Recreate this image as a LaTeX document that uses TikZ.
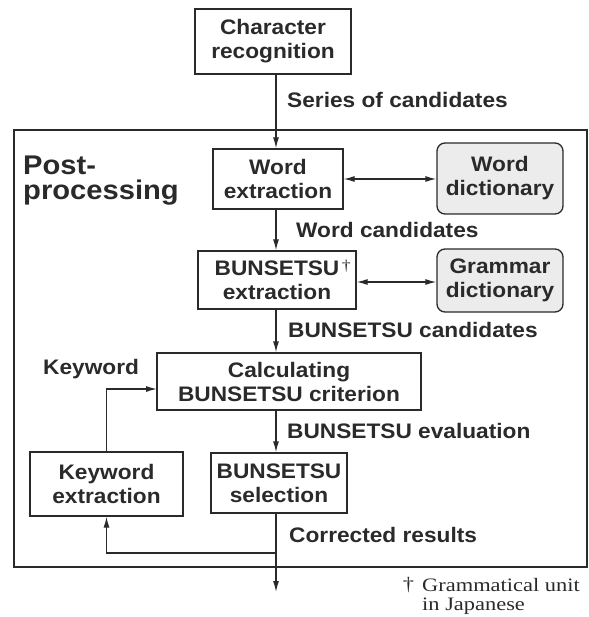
\documentclass[tikz,border=0pt]{standalone}
\usepackage{fontspec}
\setmainfont{Liberation Sans}[FakeStretch=1.08]
\newfontfamily\fnser{Liberation Serif}[FakeStretch=1.18]
\usetikzlibrary{arrows.meta}
\newcommand{\lblfont}{\fontsize{21}{24}\selectfont\bfseries}
\newcommand{\bigfont}{\fontsize{27}{25}\selectfont\bfseries}
\definecolor{ink}{HTML}{2A2A2A}
\definecolor{dictgray}{HTML}{ECECEC}
\begin{document}
\begin{tikzpicture}[x=1pt,y=-1pt,
  every node/.style={text=ink},
  boxnode/.style={draw=ink, line width=1.3pt, align=center, inner sep=0pt, font=\lblfont},
  dictnode/.style={boxnode, rounded corners=8pt, fill=dictgray},
  lbl/.style={anchor=base west, inner sep=0pt, font=\lblfont},
  conn/.style={draw=ink, line width=1.3pt},
  arr/.style={conn, -{Latex[length=11pt,width=6pt]}},
  darr/.style={conn, {Latex[length=11pt,width=6pt]}-{Latex[length=11pt,width=6pt]}}]
\useasboundingbox (0,0) rectangle (588,617);
% outer box
\draw[ink, line width=1.4pt] (14,130) rectangle (587,567);
\coordinate (ax) at (276,0);
% nodes
\node[boxnode, minimum width=156pt, minimum height=65pt] (char) at (273,41.5) {Character\\recognition};
\node[boxnode, minimum width=130pt, minimum height=60pt] (wext) at (278,179) {Word\\extraction};
\node[dictnode, minimum width=126pt, minimum height=71pt] (wdict) at (500,178.5) {Word\\dictionary};
\node[boxnode, minimum width=158pt, minimum height=58pt] (bext) at (277,280) {BUNSETSU\rlap{\raisebox{0.5ex}{\fnser\mdseries\fontsize{15}{15}\selectfont\,\textdagger}}\\extraction};
\node[dictnode, minimum width=126pt, minimum height=63pt] (gdict) at (500,280.5) {Grammar\\dictionary};
\node[boxnode, minimum width=264pt, minimum height=57pt] (calc) at (289,381.5) {Calculating\\BUNSETSU criterion};
\node[boxnode, minimum width=153pt, minimum height=64pt] (kext) at (106.5,484) {Keyword\\extraction};
\node[boxnode, minimum width=136pt, minimum height=60pt] (bsel) at (279,483) {BUNSETSU\\selection};
% labels
\node[anchor=base west, inner sep=0pt, font=\bigfont] (post1) at (23,175) {Post-};
\node[anchor=base west, inner sep=0pt, font=\bigfont] (post2) at (23,200) {processing};
\node[lbl] (l1) at (287,108) {Series of candidates};
\node[lbl] (l2) at (296,237) {Word candidates};
\node[lbl] (l3) at (288,337) {BUNSETSU candidates};
\node[lbl] (l4) at (43,374) {Keyword};
\node[lbl] (l5) at (287,438) {BUNSETSU evaluation};
\node[lbl] (l6) at (289,542) {Corrected results};
\node[anchor=north west, inner sep=0pt, align=left, font=\fnser\fontsize{19}{19.5}\selectfont] (fn) at (422,577) {\llap{\raisebox{0.1ex}{\textdagger}\hspace{8pt}}Grammatical unit\\in Japanese};
% connectors
\coordinate (split) at (276,553);
\coordinate (out) at (276,592);
\coordinate (kin) at (157,389);
\draw[arr] (char.south -| ax) -- (wext.north -| ax);
\draw[arr] (wext.south -| ax) -- (bext.north -| ax);
\draw[arr] (bext.south -| ax) -- (calc.north -| ax);
\draw[arr] (calc.south -| ax) -- (bsel.north -| ax);
\draw[arr] (bsel.south -| ax) -- (out);
\draw[arr] (split) -| (kext.south);
\draw[arr] (kext.north) |- (kin);
\draw[darr] (wext.east |- 0,179) -- (wdict.west |- 0,179);
\draw[darr] (bext.east |- 0,282) -- (gdict.west |- 0,282);
\end{tikzpicture}
\end{document}
